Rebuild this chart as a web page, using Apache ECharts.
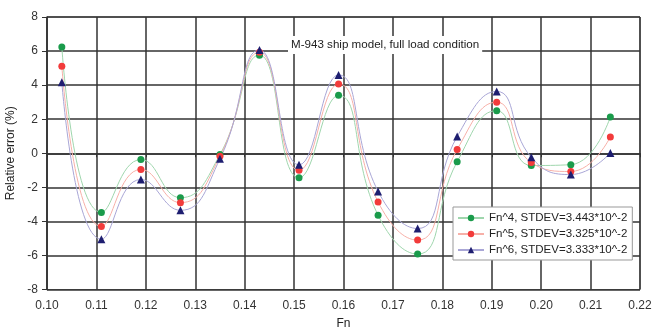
<!DOCTYPE html>
<html><head><meta charset="utf-8">
<script src="https://cdn.jsdelivr.net/npm/echarts@6/dist/echarts.min.js"></script>
<style>html,body{margin:0;padding:0;background:#fff}#c{width:652px;height:327px}</style>
</head><body><div id="c"></div>
<script>
const fn = [0.103,0.111,0.119,0.127,0.135,0.143,0.151,0.159,0.167,0.175,0.183,0.191,0.198,0.206,0.214];
const fn4 = [6.24,-3.48,-0.37,-2.61,-0.08,5.76,-1.44,3.40,-3.64,-5.92,-0.50,2.50,-0.72,-0.67,2.13];
const fn5 = [5.11,-4.30,-0.95,-2.90,-0.18,5.93,-1.00,4.07,-2.86,-5.10,0.22,3.00,-0.55,-1.07,0.96];
const fn6 = [4.17,-5.05,-1.54,-3.35,-0.33,6.06,-0.68,4.60,-2.24,-4.42,0.98,3.63,-0.24,-1.25,0.02];
const names = ['Fn^4, STDEV=3.443*10^-2','Fn^5, STDEV=3.325*10^-2','Fn^6, STDEV=3.333*10^-2'];
const titleText = 'M-943 ship model, full load condition';

const chart = echarts.init(document.getElementById('c'));
const font = 'Liberation Sans, Arial, sans-serif';
function mk(name, vals, sym, mcol, lcol){
  return {name, type:'line', data: fn.map((x,i)=>[x, vals[i]]), smooth:0.5,
    symbol: sym, symbolSize: sym==='triangle'?8:7,
    itemStyle:{color:mcol}, lineStyle:{color:lcol, width:1}, z:3};
}
chart.setOption({
  animation:false,
  textStyle:{fontFamily:font},
  grid:{left:47, right:12, top:17, bottom:37.5, show:true, borderColor:'#555', borderWidth:1,
    containLabel:false, outerBoundsMode:'none'},
  title:{text:titleText, left:288, top:36, padding:[3,3], backgroundColor:'#fff',
    textStyle:{fontSize:11.6, fontWeight:'normal', color:'#222', fontFamily:font}},
  legend:{orient:'vertical', left:453, top:207, backgroundColor:'#fff', borderColor:'#999', borderWidth:1,
    padding:[5,5,4,4], itemGap:4, itemWidth:26, itemHeight:8,
    textStyle:{fontSize:11.5, color:'#222', fontFamily:font}, data:names},
  xAxis:{type:'value', min:0.10, max:0.22, interval:0.01, name:'Fn', nameLocation:'middle', nameGap:28,
    nameTextStyle:{fontSize:12, color:'#222'},
    axisLabel:{formatter:v=>v.toFixed(2), fontSize:12, color:'#333', margin:10},
    axisLine:{lineStyle:{color:'#333', width:1.5}}, axisTick:{show:true, length:4, lineStyle:{color:'#333'}},
    splitLine:{lineStyle:{color:'#333', width:1.5}}},
  yAxis:{type:'value', min:-8, max:8, interval:2, name:'Relative error (%)', nameLocation:'middle', nameGap:24,
    nameTextStyle:{fontSize:12, color:'#222'},
    axisLabel:{fontSize:12, color:'#333', margin:9},
    axisLine:{show:true, lineStyle:{color:'#333', width:1.5}}, axisTick:{show:true, length:5, lineStyle:{color:'#333'}},
    splitLine:{lineStyle:{color:'#333', width:1.5}}},
  series:[
    mk(names[0], fn4, 'circle', '#1a9b4b', '#9fd6ad'),
    mk(names[1], fn5, 'circle', '#f23b3b', '#f7b0a8'),
    mk(names[2], fn6, 'triangle', '#1e1e70', '#a9a6d6')
  ]
});
</script></body></html>
